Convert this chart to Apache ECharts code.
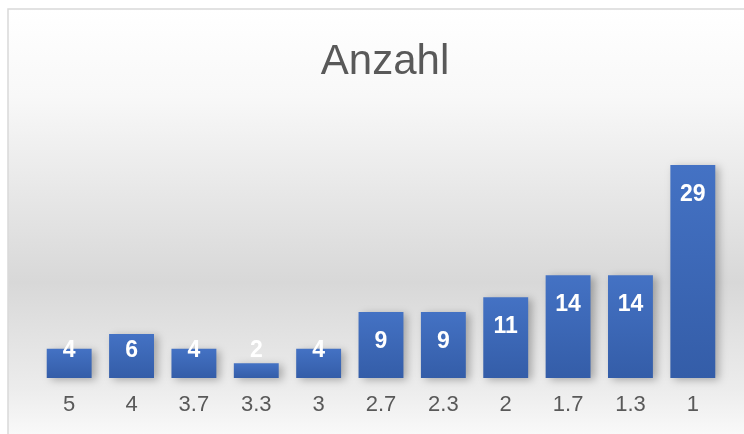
<!DOCTYPE html>
<html>
<head>
<meta charset="utf-8">
<script src="https://cdn.jsdelivr.net/npm/echarts@6/dist/echarts.min.js"></script>
<style>
  html, body { margin: 0; padding: 0; background: #fff; }
  #chart { width: 744px; height: 434px; }
</style>
</head>
<body>
<div id="chart"></div>
<script>
  const categories = ['5', '4', '3.7', '3.3', '3', '2.7', '2.3', '2', '1.7', '1.3', '1'];
  const counts = [4, 6, 4, 2, 4, 9, 9, 11, 14, 14, 29];

  const chart = echarts.init(document.getElementById('chart'));
  chart.setOption({
    animation: false,
    graphic: [
      {
        type: 'rect',
        z: -10,
        shape: { x: 8, y: 9, width: 760, height: 440 },
        style: {
          fill: new echarts.graphic.LinearGradient(0, 0, 0, 1, [
            { offset: 0, color: '#ffffff' },
            { offset: 0.2, color: '#f8f8f8' },
            { offset: 0.62, color: '#d8d8d8' },
            { offset: 0.86, color: '#ececec' },
            { offset: 1, color: '#fdfdfd' }
          ]),
          stroke: '#d9d9d9',
          lineWidth: 1.5
        }
      }
    ],
    title: {
      text: 'Anzahl',
      left: 380,
      top: 36,
      textAlign: 'center',
      textStyle: {
        color: '#595959',
        fontSize: 42,
        fontWeight: 'normal',
        fontFamily: 'Liberation Sans'
      }
    },
    grid: {
      left: 38,
      right: 20,
      top: 121,
      bottom: 56
    },
    xAxis: {
      type: 'category',
      data: categories,
      axisLine: { show: false },
      axisTick: { show: false },
      axisLabel: {
        color: '#595959',
        fontSize: 22,
        fontFamily: 'Liberation Sans',
        margin: 16
      }
    },
    yAxis: {
      type: 'value',
      min: 0,
      max: 35,
      show: false,
      splitLine: { show: false }
    },
    series: [
      {
        type: 'bar',
        barCategoryGap: '28%',
        data: counts.map((v) => {
          // kurze Balken: Beschriftung vom Boden aus
          const short = v < 8;
          return {
            value: v,
            label: {
              position: short ? 'insideBottom' : 'insideTop',
              distance: short ? 16 : 18
            }
          };
        }),
        itemStyle: {
          color: new echarts.graphic.LinearGradient(0, 0, 0, 1, [
            { offset: 0, color: '#4472c4' },
            { offset: 1, color: '#345da8' }
          ]),
          shadowColor: 'rgba(0,0,0,0.28)',
          shadowBlur: 8,
          shadowOffsetX: 4,
          shadowOffsetY: 2
        },
        label: {
          show: true,
          color: '#ffffff',
          fontSize: 23,
          fontWeight: 'bold',
          fontFamily: 'Liberation Sans'
        }
      }
    ]
  });
</script>
</body>
</html>
